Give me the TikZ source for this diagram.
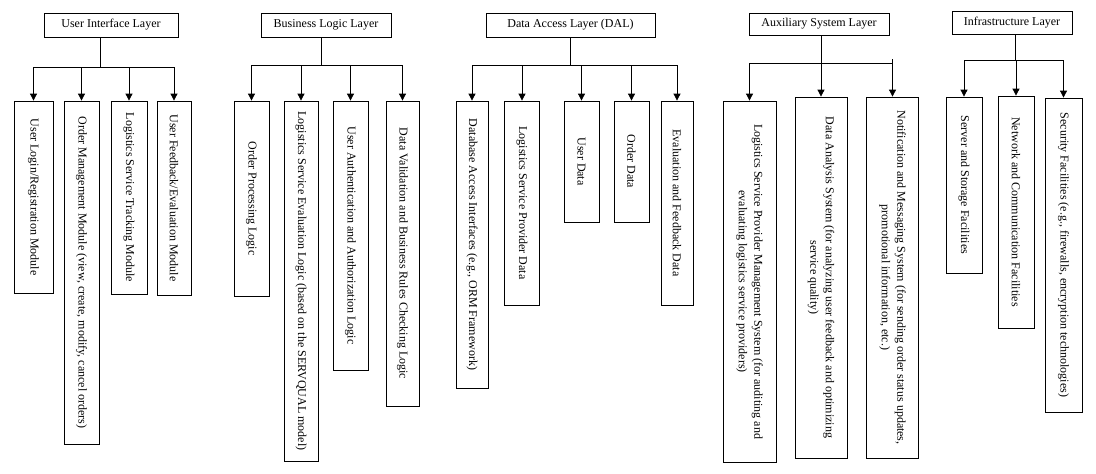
\documentclass[tikz,border=0pt]{standalone}
\usepackage{fontspec}
\setmainfont{Liberation Serif}
\usetikzlibrary{arrows.meta}
\begin{document}
\begin{tikzpicture}[x=1pt,y=-1pt,
  every node/.style={font=\fontsize{12}{15.5}\selectfont},
  line/.style={draw=black, line width=0.8pt},
  arr/.style={line, -{Triangle[width=7pt,length=7pt]}},
  hbox/.style={draw, line width=0.8pt, inner sep=0pt},
  cbox/.style={draw, line width=0.8pt, inner sep=0pt, rotate=-90, align=center},
]
\fill[white] (0,0) rectangle (1096,474);
\useasboundingbox (0,0) rectangle (1096,474);

% ---------- User Interface Layer ----------
\node[hbox, minimum width=134pt, minimum height=24pt] (uiH) at (111,25) {User Interface Layer};
\node[cbox, minimum width=192pt, minimum height=39pt] (ui1) at (33.5,197) {User Login/Registration Module};
\node[cbox, minimum width=343pt, minimum height=35pt] (ui2) at (81.5,272.5) {Order Management Module (view, create, modify, cancel orders)};
\node[cbox, minimum width=193pt, minimum height=36pt] (ui3) at (129,197.5) {Logistics Service Tracking Module};
\node[cbox, minimum width=194pt, minimum height=34pt] (ui4) at (174,198) {User Feedback/Evaluation Module};
\coordinate (uiJ) at (100,67);
\draw[line] (uiH.south -| uiJ) -- (uiJ);
\draw[line] (ui1.west |- uiJ) -- (ui4.west |- uiJ);
\foreach \n in {ui1,ui2,ui3,ui4} \draw[arr] (\n.west |- uiJ) -- (\n.west);

% ---------- Business Logic Layer ----------
\node[hbox, minimum width=130pt, minimum height=24pt] (blH) at (326,25) {Business Logic Layer};
\node[cbox, minimum width=195pt, minimum height=35pt] (bl1) at (251.5,198.5) {Order Processing Logic};
\node[cbox, minimum width=360pt, minimum height=34pt] (bl2) at (301,281) {Logistics Service Evaluation Logic (based on the SERVQUAL model)};
\node[cbox, minimum width=269pt, minimum height=35pt] (bl3) at (350.5,235.5) {User Authentication and Authorization Logic};
\node[cbox, minimum width=305pt, minimum height=33pt] (bl4) at (402.5,253.5) {Data Validation and Business Rules Checking Logic};
\coordinate (blJ) at (321,65);
\draw[line] (blH.south -| blJ) -- (blJ);
\draw[line] (bl1.west |- blJ) -- (bl4.west |- blJ);
\foreach \n in {bl1,bl2,bl3,bl4} \draw[arr] (\n.west |- blJ) -- (\n.west);

% ---------- Data Access Layer ----------
\node[hbox, minimum width=169pt, minimum height=24pt] (daH) at (570.5,25) {Data Access Layer (DAL)};
\node[cbox, minimum width=287pt, minimum height=32pt] (da1) at (472,244.5) {Database Access Interfaces (e.g., ORM Framework)};
\node[cbox, minimum width=204pt, minimum height=35pt] (da2) at (522,203) {Logistics Service Provider Data};
\node[cbox, minimum width=121pt, minimum height=35pt] (da3) at (581.5,161.5) {User Data};
\node[cbox, minimum width=121pt, minimum height=35pt] (da4) at (631.5,161.5) {Order Data};
\node[cbox, minimum width=204pt, minimum height=32pt] (da5) at (677,203) {Evaluation and Feedback Data};
\coordinate (daJ) at (570,65);
\draw[line] (daH.south -| daJ) -- (daJ);
\draw[line] (da1.west |- daJ) -- (da5.west |- daJ);
\foreach \n in {da1,da2,da3,da4,da5} \draw[arr] (\n.west |- daJ) -- (\n.west);

% ---------- Auxiliary System Layer ----------
\node[hbox, minimum width=140pt, minimum height=22pt] (axH) at (819,24) {Auxiliary System Layer};
\node[cbox, minimum width=361pt, minimum height=53pt] (ax1) at (749.5,281.5) {Logistics Service Provider Management System (for auditing and\\ evaluating logistics service providers)};
\node[cbox, minimum width=361pt, minimum height=52pt] (ax2) at (821,277.5) {Data Analysis System (for analyzing user feedback and optimizing\\ service quality)};
\node[cbox, minimum width=361pt, minimum height=52pt] (ax3) at (892.5,277.5) {Notification and Messaging System (for sending order status updates,\\ promotional information, etc.)};
\coordinate (axJ) at (821,63);
\coordinate (axT) at (892.5,59);
\draw[line] (axH.south -| axJ) -- (axJ);
\draw[line] (ax1.west |- axJ) -- (ax3.west |- axJ);
\draw[arr] (axH.south -| ax2.west) -- (ax2.west);
\draw[arr] (ax1.west |- axJ) -- (ax1.west);
\draw[arr] (axT) -- (ax3.west);

% ---------- Infrastructure Layer ----------
\node[hbox, minimum width=120pt, minimum height=23pt] (inH) at (1012,22.5) {Infrastructure Layer};
\node[cbox, minimum width=176pt, minimum height=36pt] (in1) at (964,185) {Server and Storage Facilities};
\node[cbox, minimum width=232pt, minimum height=36pt] (in2) at (1016,212) {Network and Communication Facilities};
\node[cbox, minimum width=314pt, minimum height=37pt] (in3) at (1063.5,255) {Security Facilities (e.g., firewalls, encryption technologies)};
\coordinate (inJ) at (1015,60);
\draw[line] (inH.south -| inJ) -- (inJ);
\draw[line] (in1.west |- inJ) -- (in3.west |- inJ);
\foreach \n in {in1,in2,in3} \draw[arr] (\n.west |- inJ) -- (\n.west);
\end{tikzpicture}
\end{document}
